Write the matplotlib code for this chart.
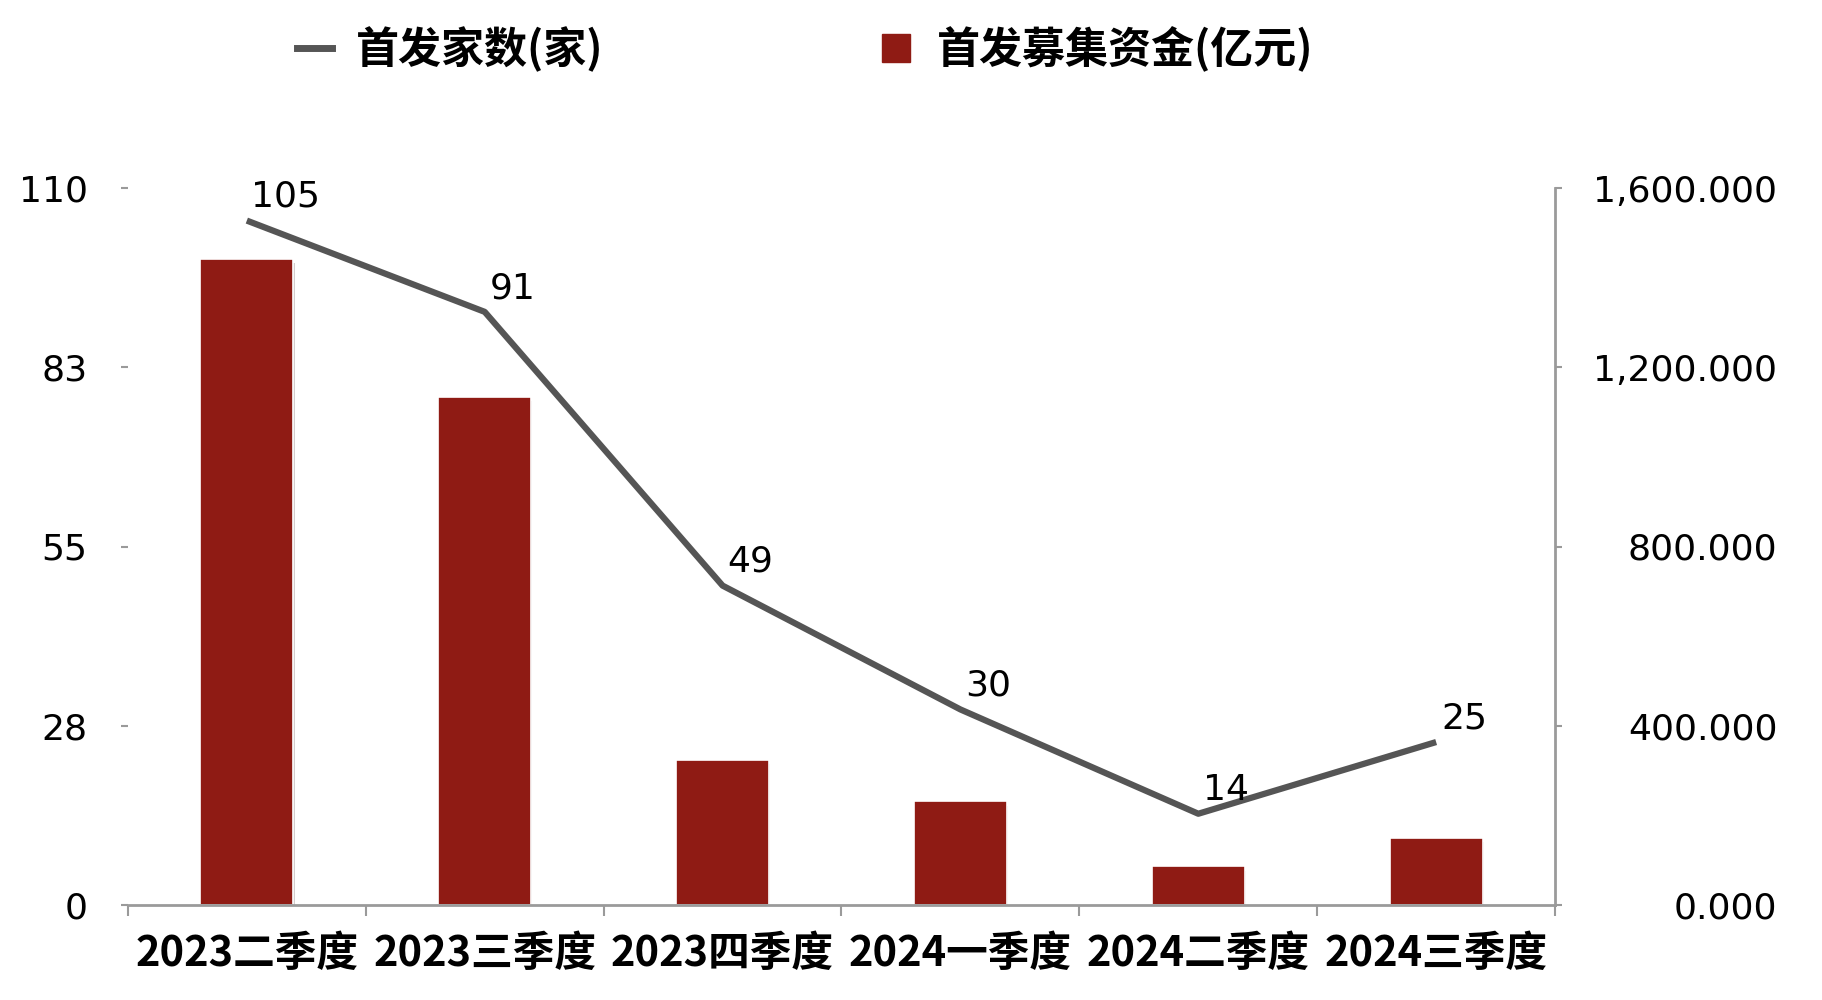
import matplotlib
matplotlib.use('Agg')
import matplotlib.pyplot as plt
import matplotlib.patheffects as pe
from matplotlib.lines import Line2D

plt.rcParams['font.family'] = ['DejaVu Sans', 'Noto Sans CJK SC']

quarters = ['2023二季度', '2023三季度', '2023四季度', '2024一季度', '2024二季度', '2024三季度']
ipo_count = [105, 91, 49, 30, 14, 25]            # 首发家数(家)
ipo_funds = [1442, 1133, 324, 231, 86, 150]      # 首发募集资金(亿元)

left_ticks = [0, 27.5, 55, 82.5, 110]
left_labels = ['0', '28', '55', '83', '110']
right_ticks = [0, 400, 800, 1200, 1600]

BAR_COLOR = '#8F1B14'
LINE_COLOR = '#555555'
AXIS_GRAY = '#9a9a9a'
CJK = ['Noto Sans CJK SC', 'DejaVu Sans']

fig = plt.figure(figsize=(18.22, 10), dpi=100)
ax = fig.add_axes([0.0702, 0.095, 0.7833, 0.717])
ax2 = ax.twinx()

x = list(range(len(quarters)))

# bars on the right axis, line on the left axis
ax2.bar(x, ipo_funds, width=0.39, color=BAR_COLOR, edgecolor='white', linewidth=1.2,
        path_effects=[pe.SimplePatchShadow(offset=(1, -3), alpha=0.2), pe.Normal()],
        zorder=1)
ax2.set_ylim(0, 1600)
ax2.set_yticks(right_ticks)
ax2.set_yticklabels([f'{v:,.3f}' for v in right_ticks], fontsize=26, ha='right')
ax2.tick_params(axis='y', direction='out', length=5, width=1.5, color=AXIS_GRAY, pad=155)

# draw line above bars
ax.set_zorder(ax2.get_zorder() + 1)
ax.patch.set_visible(False)
ax.plot(x, ipo_count, color=LINE_COLOR, linewidth=4.5, solid_capstyle='butt', zorder=3)
for xi, v in zip(x, ipo_count):
    dx = 28 if v >= 100 else 20
    ax.annotate(str(v), (xi, v), xytext=(dx, 17), textcoords='offset points',
                ha='center', va='center', fontsize=26, color='black')

ax.set_ylim(0, 110)
ax.set_yticks(left_ticks)
ax.set_yticklabels(left_labels, fontsize=26)
ax.tick_params(axis='y', direction='out', length=5, width=1.5, color=AXIS_GRAY, pad=24)

ax.set_xlim(-0.5, len(quarters) - 0.5)
ax.set_xticks(x)
ax.set_xticklabels(quarters, fontsize=30, family=CJK, fontweight='bold')
ax.set_xticks([i - 0.5 for i in range(len(quarters) + 1)], minor=True)
ax.tick_params(axis='x', which='major', length=0, pad=20)
ax.tick_params(axis='x', which='minor', direction='out', length=8, width=1.5, color=AXIS_GRAY)

for a in (ax, ax2):
    a.spines['top'].set_visible(False)
    a.spines['left'].set_visible(False)
ax.spines['right'].set_visible(False)
ax2.spines['right'].set_color(AXIS_GRAY)
ax2.spines['right'].set_linewidth(2)
ax.spines['bottom'].set_color(AXIS_GRAY)
ax.spines['bottom'].set_linewidth(2)
ax2.spines['bottom'].set_visible(False)

handles = [
    Line2D([], [], color=LINE_COLOR, linewidth=5),
    Line2D([], [], color=BAR_COLOR, marker='s', markersize=20, linestyle='none'),
]
fig.legend(handles, ['首发家数(家)', '首发募集资金(亿元)'], loc='center',
           bbox_to_anchor=(0.442, 0.951), ncol=2, frameon=False,
           prop={'family': CJK, 'size': 31, 'weight': 'bold'},
           handlelength=0.8, handletextpad=0.55, columnspacing=6.4)

fig.savefig('out.png', dpi=100)
